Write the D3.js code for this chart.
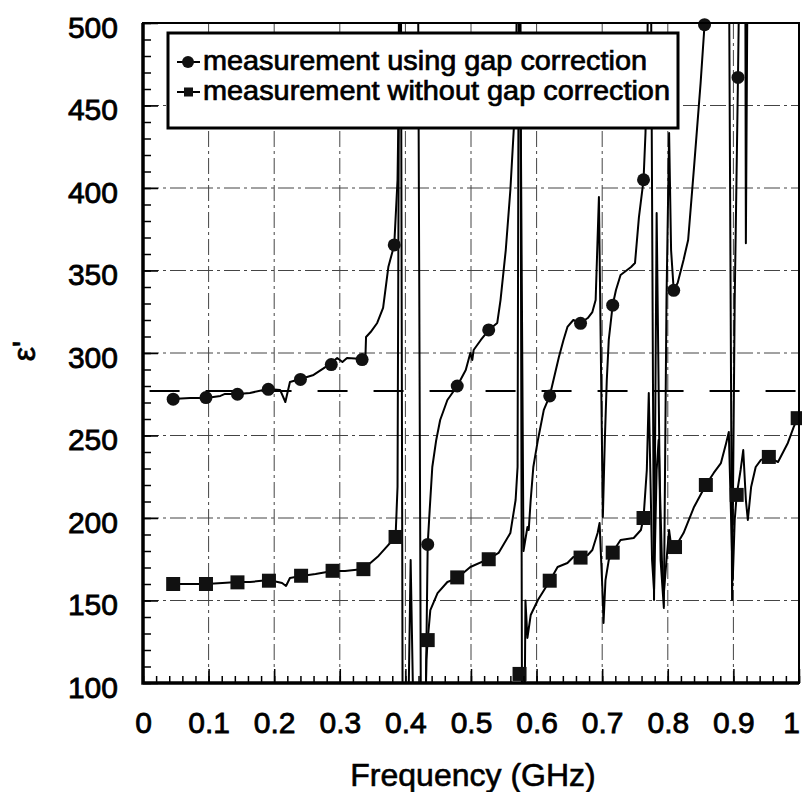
<!DOCTYPE html>
<html>
<head>
<meta charset="utf-8">
<script src="https://cdn.jsdelivr.net/npm/d3@7"></script>
<style>
  body { margin: 0; background: #fff; }
  svg text { font-family: "Liberation Sans", Arial, Helvetica, sans-serif; fill: #000; }
</style>
</head>
<body>
<div id="chart"></div>
<script>
// values (frequency in GHz, eps')
// 560 / 40 stand for "off the chart" (curve runs past top / bottom)
let gapFreq = [0.044, 0.072, 0.096, 0.118, 0.125, 0.144, 0.163, 0.191, 0.209, 0.217, 0.224, 0.240, 0.260, 0.285, 0.296, 0.304, 0.311, 0.336, 0.339, 0.340, 0.347, 0.357, 0.366, 0.374, 0.383, 0.388, 0.389, 0.391,
    0.419, 0.424, 0.428, 0.431, 0.434, 0.437, 0.441, 0.447, 0.453, 0.464, 0.479, 0.492, 0.499, 0.502, 0.504, 0.515, 0.527, 0.540, 0.545, 0.553, 0.560, 0.566, 0.569, 0.571,
    0.574, 0.580, 0.586, 0.588, 0.591, 0.595, 0.602, 0.611, 0.620, 0.634, 0.641, 0.647, 0.656, 0.667, 0.678, 0.685, 0.690, 0.695, 0.701, 0.704, 0.707, 0.710, 0.716, 0.721, 0.728, 0.744, 0.750, 0.756, 0.763, 0.766, 0.769, 0.771,
    0.774, 0.779, 0.783, 0.789, 0.794, 0.798, 0.802, 0.805, 0.809, 0.815, 0.824, 0.831, 0.840, 0.850, 0.856, 0.859,
    0.893, 0.898, 0.902, 0.907, 0.910, 0.918, 0.919, 0.922, 1.0]
let gapEps = [272.1, 272.7, 272.7, 274, 275.2, 275.2, 275.8, 278.2, 277.6, 270.3, 282.4, 284.2, 286.7, 293.3, 297, 294.5, 297, 296.4, 297, 309.7, 312.7, 318.2, 327.3, 352.1, 365.5, 404.8, 433.3, 560,
    560, 40, 40, 90, 184.2, 204.8, 230.9, 247.3, 259.4, 271.5, 280, 289.7, 300, 295.8, 301.8, 307.9, 313.9, 318.2, 332.1, 362.4, 398.8, 441.2, 483.6, 560,
    560, 180, 194.5, 192.7, 210.9, 230.9, 247.3, 265.5, 274, 297.6, 307.9, 315.8, 320, 318.2, 321.2, 324.8, 332.1, 394.5, 200.6, 247.3, 283.6, 307.9, 329.1, 338.2, 347.3, 352.1, 354.5, 382.4, 404.8, 433.3, 489.7, 560,
    560, 150.3, 384.8, 174.5, 145.5, 332.1, 433.3, 362.4, 338.2, 342.4, 356.4, 368.5, 412.7, 463.6, 498.8, 560,
    560, 150.3, 332.1, 467.3, 560, 560, 366.5, 560, 560]

let noGapFreq = [0.044, 0.072, 0.096, 0.121, 0.144, 0.163, 0.192, 0.212, 0.218, 0.224, 0.241, 0.263, 0.289, 0.308, 0.336, 0.359, 0.371, 0.385, 0.388, 0.391, 0.393, 0.396,
    0.403, 0.408, 0.414, 0.429, 0.432, 0.434, 0.438, 0.449, 0.464, 0.479, 0.499, 0.527, 0.542, 0.560, 0.568, 0.571, 0.573, 0.575, 0.578,
    0.581, 0.583, 0.586, 0.591, 0.602, 0.620, 0.632, 0.647, 0.656, 0.667, 0.678, 0.685, 0.693, 0.696, 0.701, 0.702, 0.705, 0.710, 0.716, 0.728, 0.748, 0.759, 0.763,
    0.768, 0.771, 0.776, 0.779, 0.783, 0.786, 0.791, 0.794, 0.798, 0.802, 0.805, 0.811, 0.815, 0.824, 0.840, 0.858, 0.870, 0.881, 0.889, 0.893, 0.899, 0.902, 0.905,
    0.911, 0.915, 0.919, 0.922, 0.927, 0.934, 0.942, 0.954, 0.968, 0.983, 0.992, 0.998, 1.0]
let noGapEps = [160, 160, 160, 160.6, 161.2, 161.2, 162.4, 160.6, 158.8, 163.6, 164.8, 166.1, 167.9, 167.9, 169.1, 177, 182.4, 188.5, 218.8, 560, 560, 40,
    40, 174.5, 40, 40, 114, 126.1, 144.2, 154.5, 161.2, 163.6, 170.3, 175.2, 178.8, 190.9, 210.9, 230.9, 560, 560, 40,
    40, 150, 127.3, 141.2, 150.3, 161.8, 170.3, 172.7, 176.4, 176.4, 177.6, 180.6, 190.9, 197, 150.3, 136.4, 162.4, 174.5, 179.4, 186.7, 187.9, 192.7, 200,
    229.1, 275.8, 174.5, 156.4, 229.1, 247.3, 174.5, 154.5, 174.5, 192.7, 183.6, 182.4, 184.8, 190.9, 206.7, 220, 227.3, 233.3, 245.5, 252.1, 162.4, 198.8, 213.9,
    229.1, 241.2, 210.9, 198.8, 218.8, 230.9, 235.2, 237, 233.9, 245.5, 255.2, 260.6, 263]

// plotted symbols
let gapMarkFreq = [0.046, 0.096, 0.144, 0.191, 0.240, 0.287, 0.334, 0.383, 0.434, 0.479, 0.527, 0.620, 0.667, 0.716, 0.763, 0.809, 0.856, 0.907]
let gapMarkEps = [272, 273, 275, 278, 284, 293, 296, 365.5, 184, 280, 314, 274, 318, 329, 405, 338, 499, 467]
let noGapMarkFreq = [0.046, 0.096, 0.144, 0.192, 0.241, 0.289, 0.336, 0.385, 0.434, 0.479, 0.527, 0.574, 0.620, 0.667, 0.716, 0.763, 0.811, 0.858, 0.905, 0.954, 0.998]
let noGapMarkEps = [160, 160, 161, 162, 165, 168, 169, 188.5, 126, 164, 175, 105.5, 162, 176, 179, 200, 182.4, 220, 214, 237, 260.5]

let refEps = 277
let xTicks = [0, 0.1, 0.2, 0.3, 0.4, 0.5, 0.6, 0.7, 0.8, 0.9, 1]
let xTickLabels = ["0", "0.1", "0.2", "0.3", "0.4", "0.5", "0.6", "0.7", "0.8", "0.9", "1"]
let yTicks = [100, 150, 200, 250, 300, 350, 400, 450, 500]
let legendLabels = ["measurement using gap correction", "measurement without gap correction"]

;(function () {
    let w = 802, h = 792
    let pl = 143, pr = 799, pt = 23, pb = 683

    let svg = d3.select("#chart").append("svg")
        .attr("width", w)
        .attr("height", h)

    let x = d3.scaleLinear().domain([0, 1]).range([pl, pr])
    let y = d3.scaleLinear().domain([100, 500]).range([pb, pt])

    svg.append("clipPath").attr("id", "plot")
        .append("rect")
        .attr("x", pl).attr("y", pt)
        .attr("width", pr - pl).attr("height", pb - pt)

    // grid (dash-dot, like the scan)
    let grid = svg.append("g").attr("stroke", "#444").attr("stroke-width", 1).attr("stroke-dasharray", "16,4,3,4")
    grid.selectAll(".gx").data(xTicks.slice(1, -1)).enter().append("line")
        .attr("x1", d => x(d)).attr("x2", d => x(d))
        .attr("y1", pt).attr("y2", pb)
    grid.selectAll(".gy").data(yTicks.slice(1, -1)).enter().append("line")
        .attr("x1", pl).attr("x2", pr)
        .attr("y1", d => y(d)).attr("y2", d => y(d))

    // reference level
    svg.append("line")
        .attr("x1", x(0.01)).attr("x2", x(1))
        .attr("y1", y(refEps)).attr("y2", y(refEps))
        .attr("stroke", "#000").attr("stroke-width", 2)
        .attr("stroke-dasharray", "30,26")

    // curves
    let line = d3.line().x(d => x(d[0])).y(d => y(d[1]))
    let curves = svg.append("g").attr("clip-path", "url(#plot)")
    curves.append("path")
        .datum(d3.zip(gapFreq, gapEps))
        .attr("fill", "none").attr("stroke", "#000").attr("stroke-width", 2)
        .attr("stroke-linejoin", "round")
        .attr("d", line)
    curves.append("path")
        .datum(d3.zip(noGapFreq, noGapEps))
        .attr("fill", "none").attr("stroke", "#000").attr("stroke-width", 2)
        .attr("stroke-linejoin", "round")
        .attr("d", line)

    // symbols
    svg.append("g").selectAll("circle")
        .data(d3.zip(gapMarkFreq, gapMarkEps))
        .enter().append("circle")
        .attr("cx", d => x(d[0])).attr("cy", d => y(d[1]))
        .attr("r", 6.5).attr("fill", "#111")
    svg.append("g").selectAll("rect")
        .data(d3.zip(noGapMarkFreq, noGapMarkEps))
        .enter().append("rect")
        .attr("x", d => x(d[0]) - 7).attr("y", d => y(d[1]) - 7)
        .attr("width", 14).attr("height", 14).attr("fill", "#111")

    // axes, ticks pointing inward
    let xMinor = d3.range(0, 51).map(i => i / 50)
    svg.append("g")
        .attr("transform", "translate(0," + pb + ")")
        .call(d3.axisBottom(x).tickValues(xMinor).tickSizeInner(-7).tickSizeOuter(0).tickFormat(""))
    svg.append("g")
        .attr("class", "xaxis")
        .attr("transform", "translate(0," + pb + ")")
        .call(d3.axisBottom(x).tickValues(xTicks).tickSizeInner(-14).tickSizeOuter(0).tickPadding(29)
            .tickFormat((d, i) => xTickLabels[i]))

    let yMinor = d3.range(100, 501, 10)
    svg.append("g")
        .attr("transform", "translate(" + pl + ",0)")
        .call(d3.axisLeft(y).tickValues(yMinor).tickSizeInner(-8).tickSizeOuter(0).tickFormat(""))
    svg.append("g")
        .attr("class", "yaxis")
        .attr("transform", "translate(" + pl + ",0)")
        .call(d3.axisLeft(y).tickValues(yTicks).tickSizeInner(-15).tickSizeOuter(0).tickPadding(25))

    svg.selectAll(".domain").remove()
    svg.selectAll(".tick line").attr("stroke", "#000").attr("stroke-width", 1.5)
    svg.selectAll(".xaxis text, .yaxis text")
        .attr("font-family", null)
        .style("font-size", "30px")
        .attr("stroke", "#000").attr("stroke-width", 0.8)
    svg.selectAll(".yaxis text").attr("dy", "0.47em")
    // last label sits on the page edge, pull it inside
    svg.selectAll(".xaxis .tick text").filter(d => d === 1).attr("dx", -8)

    // frame
    svg.append("rect")
        .attr("x", pl).attr("y", pt)
        .attr("width", pr - pl).attr("height", pb - pt)
        .attr("fill", "none").attr("stroke", "#000").attr("stroke-width", 2)
    svg.append("path")
        .attr("d", "M" + pl + "," + pt + "V" + pb + "H" + pr)
        .attr("fill", "none").attr("stroke", "#000").attr("stroke-width", 3.5)

    // legend
    let lg = svg.append("g")
    lg.append("rect")
        .attr("x", 168).attr("y", 33).attr("width", 510).attr("height", 95)
        .attr("fill", "#fff").attr("stroke", "#000").attr("stroke-width", 3)
    let rows = [62, 92]
    let rowWidths = [444, 467]
    rows.forEach((ry, i) => {
        lg.append("line")
            .attr("x1", 177).attr("x2", 200).attr("y1", ry).attr("y2", ry)
            .attr("stroke", "#000").attr("stroke-width", 2)
        if (i === 0) {
            lg.append("circle").attr("cx", 188).attr("cy", ry).attr("r", 6).attr("fill", "#111")
        } else {
            lg.append("rect").attr("x", 184).attr("y", ry - 4.5).attr("width", 9).attr("height", 9).attr("fill", "#111")
        }
        lg.append("text")
            .attr("x", 203).attr("y", ry + 8)
            .style("font-size", "27px")
            .attr("textLength", rowWidths[i])
            .attr("lengthAdjust", "spacingAndGlyphs")
            .attr("stroke", "#000").attr("stroke-width", 0.7)
            .text(legendLabels[i])
    })

    // axis titles
    svg.append("text")
        .attr("x", 473).attr("y", 786)
        .style("text-anchor", "middle")
        .style("font-size", "32px")
        .attr("stroke", "#000").attr("stroke-width", 0.6)
        .text("Frequency (GHz)")

    svg.append("text")
        .attr("transform", "rotate(-90)")
        .attr("x", -351).attr("y", 35)
        .style("text-anchor", "middle")
        .style("font-size", "32px")
        .attr("stroke", "#000").attr("stroke-width", 0.7)
        .text("ε'")
})()
</script>
</body>
</html>
